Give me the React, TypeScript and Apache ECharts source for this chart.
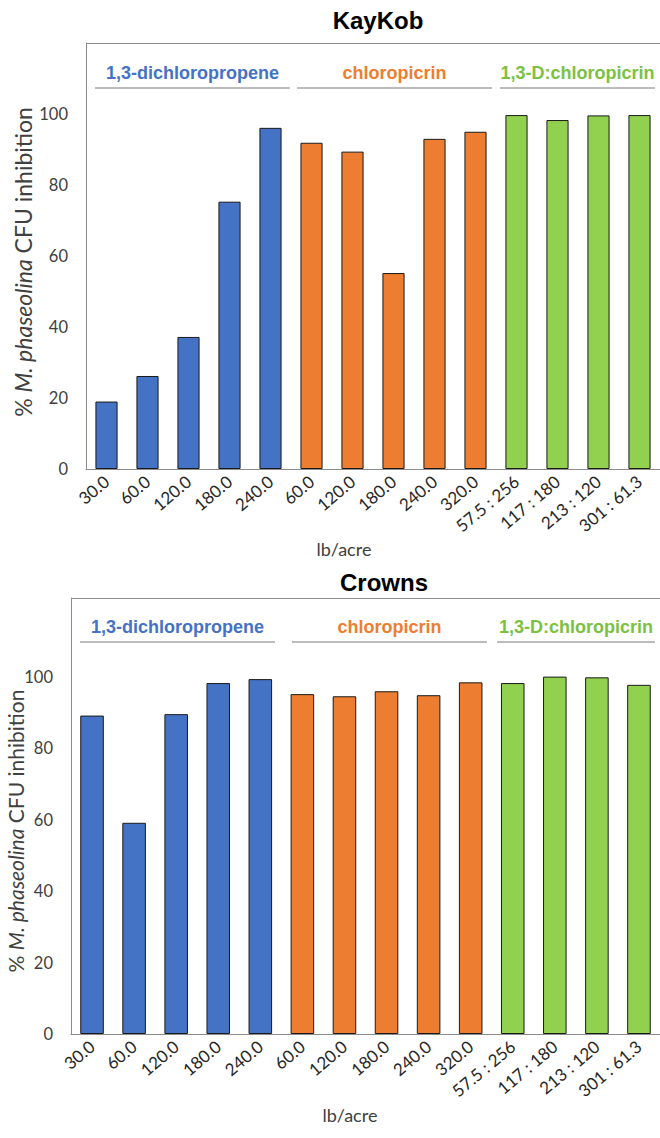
import React, { useEffect, useRef } from 'react';
import * as echarts from 'echarts';

const categories = ['30.0', '60.0', '120.0', '180.0', '240.0', '60.0', '120.0', '180.0', '240.0', '320.0', '57.5 : 256', '117 : 180', '213 : 120', '301 : 61.3'];
const kaykobValues = [19, 26.2, 37.2, 75.3, 96.1, 91.9, 89.4, 55.2, 93, 95, 99.7, 98.3, 99.6, 99.7];
const crownsValues = [89.1, 59.1, 89.5, 98.2, 99.3, 95.1, 94.5, 95.9, 94.8, 98.4, 98.2, 100, 99.8, 97.7];
const groupIndex = [0, 0, 0, 0, 0, 1, 1, 1, 1, 1, 2, 2, 2, 2];
const groupNames = ['1,3-dichloropropene', 'chloropicrin', '1,3-D:chloropicrin'];
const chartTitles = ['KayKob', 'Crowns'];
const xAxisTitle = 'lb/acre';

const barColors = ['#4472C4', '#ED7D31', '#92D050'];
const labelColors = ['#4472C4', '#ED7D31', '#7AC142'];

const LABEL_FONT = 'Lato, "Open Sans", sans-serif';
const HEAD_FONT = '"Liberation Sans", Arial, sans-serif';

export default function App() {
  const ref = useRef<HTMLDivElement>(null);
  useEffect(() => {
    const chart = echarts.init(ref.current!, null, { renderer: 'svg' });
    const makeData = (vals: number[]) =>
      vals.map((v, i) => ({ value: v, itemStyle: { color: barColors[groupIndex[i]] } }));

    const layouts = [
      { left: 86, right: -3, top: 43, bottom: 669, max: 120, barWidth: '54%', titleX: 378, titleY: 20, lineY: 88, textY: 73,
        lines: [[95, 290], [297, 492], [500, 655]], yTitleX: 23, yTitleY: 262, yTitleSize: 23, xTitleX: 344, xTitleY: 549 },
      { left: 71, right: -4, top: 598, bottom: 104, max: 122, barWidth: '56%', titleX: 384, titleY: 582, lineY: 642, textY: 627,
        lines: [[80, 275], [292, 487], [497, 655]], yTitleX: 15, yTitleY: 831, yTitleSize: 21, xTitleX: 350, xTitleY: 1115 },
    ];
    const values = [kaykobValues, crownsValues];

    const graphic: any[] = [];
    layouts.forEach((L, k) => {
      graphic.push({
        type: 'line', shape: { x1: L.left, y1: L.top + 0.5, x2: 660, y2: L.top + 0.5 },
        style: { stroke: '#8c8c8c', lineWidth: 1 },
      });
      graphic.push({
        type: 'text', x: L.titleX, y: L.titleY,
        style: { text: chartTitles[k], font: `bold 24px ${HEAD_FONT}`, fill: '#000', align: 'center', verticalAlign: 'middle' },
      });
      L.lines.forEach((seg, g) => {
        graphic.push({
          type: 'line', shape: { x1: seg[0], y1: L.lineY, x2: seg[1], y2: L.lineY },
          style: { stroke: '#a6a6a6', lineWidth: 1.5 },
        });
        graphic.push({
          type: 'text', x: (seg[0] + seg[1]) / 2, y: L.textY,
          style: { text: groupNames[g], font: `bold 18px ${HEAD_FONT}`, fill: labelColors[g], align: 'center', verticalAlign: 'middle' },
        });
      });
      graphic.push({
        type: 'text', x: L.yTitleX, y: L.yTitleY, rotation: Math.PI / 2,
        style: {
          text: '{a|% }{i|M. phaseolina}{a| CFU inhibition}',
          align: 'center', verticalAlign: 'middle',
          rich: {
            a: { fontSize: L.yTitleSize, fontFamily: LABEL_FONT, fill: '#404040', color: '#404040' },
            i: { fontSize: L.yTitleSize, fontFamily: LABEL_FONT, fontStyle: 'italic', fill: '#404040', color: '#404040' },
          },
        },
      });
      graphic.push({
        type: 'text', x: L.xTitleX, y: L.xTitleY,
        style: { text: xAxisTitle, font: `18px ${LABEL_FONT}`, fill: '#404040', align: 'center', verticalAlign: 'middle' },
      });
    });

    chart.setOption({
      animation: false,
      backgroundColor: '#fff',
      grid: layouts.map((L) => ({
        left: L.left, right: L.right, top: L.top, bottom: L.bottom, show: false, containLabel: false,
      })),
      xAxis: layouts.map((_, k) => ({
        type: 'category', gridIndex: k, data: categories,
        axisLine: { lineStyle: { color: '#8c8c8c', width: 1 } },
        axisTick: { show: false },
        axisLabel: { interval: 0, rotate: 40, fontSize: 17, fontFamily: LABEL_FONT, color: '#262626', margin: 10 },
      })),
      yAxis: layouts.map((L, k) => ({
        type: 'value', gridIndex: k, min: 0, max: L.max, interval: 20,
        axisLine: { show: true, lineStyle: { color: '#8c8c8c' } },
        axisTick: { show: false },
        splitLine: { show: false },
        axisLabel: {
          fontSize: 16.5, fontFamily: LABEL_FONT, color: '#404040', margin: 18,
          formatter: (v: number) => (v > 100 ? '' : String(v)),
        },
      })),
      series: values.map((vals, k) => ({
        type: 'bar', xAxisIndex: k, yAxisIndex: k, data: makeData(vals),
        barWidth: layouts[k].barWidth,
        itemStyle: { borderColor: '#1a1a1a', borderWidth: 1 },
      })),
      graphic,
    });
    return () => chart.dispose();
  }, []);
  return <div ref={ref} style={{ position: 'absolute', left: 0, top: 0, width: 660, height: 1138, background: '#fff' }} />;
}
